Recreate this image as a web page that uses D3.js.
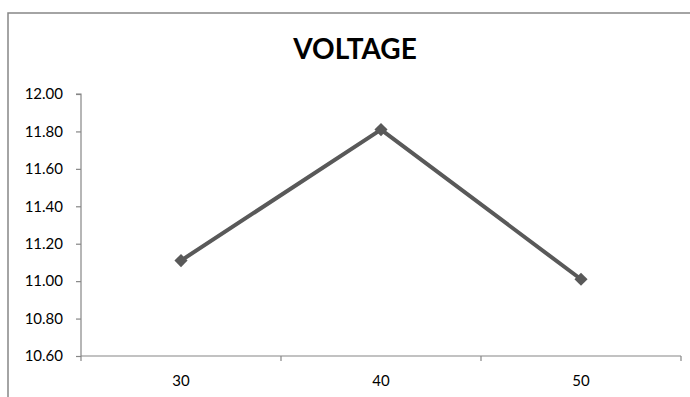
<!DOCTYPE html>
<html>
<head>
<meta charset="utf-8">
<script src="https://cdn.jsdelivr.net/npm/d3@7"></script>
<style>
  html, body { margin: 0; padding: 0; background: #fff; }
  svg { display: block; }
  .tick text { font-family: Lato, "Open Sans", sans-serif; font-size: 15px; fill: #000; }
</style>
</head>
<body>
<script>
// Voltage readings per category
const categories = ["30", "40", "50"];
const voltage = [11.11, 11.81, 11.01];
const yTicks = [10.6, 10.8, 11.0, 11.2, 11.4, 11.6, 11.8, 12.0];
const title = "VOLTAGE";

const W = 690, H = 397;
const svg = d3.select("body").append("svg").attr("width", W).attr("height", H);

// chart frame
svg.append("rect")
  .attr("x", 8).attr("y", 13).attr("width", 700).attr("height", 400)
  .attr("fill", "#fff").attr("stroke", "#868686").attr("stroke-width", 1.5);

const plotL = 81, plotR = 681, plotT = 94, plotB = 356;

const x = d3.scaleBand().domain(categories).range([plotL, plotR]);
const y = d3.scaleLinear().domain([10.6, 12.0]).range([plotB, plotT]);

// title
svg.append("text")
  .attr("x", 355).attr("y", 59)
  .attr("text-anchor", "middle")
  .attr("font-family", "Lato, 'Open Sans', sans-serif")
  .attr("font-weight", "bold")
  .attr("font-size", 28)
  .text(title);

// y axis
const yAxis = svg.append("g")
  .attr("transform", `translate(${plotL},0)`)
  .call(d3.axisLeft(y).tickValues(yTicks).tickFormat(d3.format(".2f")).tickSize(5).tickPadding(13));
yAxis.selectAll("path, line").attr("stroke", "#868686").attr("stroke-width", 1.2);
yAxis.select(".domain").attr("d", `M-5,${plotT}H0V${plotB}`);

// x axis with boundary ticks between categories
const xAxis = svg.append("g").attr("transform", `translate(0,${plotB})`);
xAxis.append("line")
  .attr("x1", plotL).attr("x2", plotR).attr("y1", 0).attr("y2", 0)
  .attr("stroke", "#868686").attr("stroke-width", 1.2);
const bounds = categories.map(c => x(c)).concat([x(categories[categories.length - 1]) + x.bandwidth()]);
xAxis.selectAll("line.b").data(bounds).enter().append("line")
  .attr("class", "b")
  .attr("x1", d => d).attr("x2", d => d).attr("y1", 0).attr("y2", 5)
  .attr("stroke", "#868686").attr("stroke-width", 1.2);
xAxis.selectAll("text").data(categories).enter().append("text")
  .attr("x", d => x(d) + x.bandwidth() / 2)
  .attr("y", 30)
  .attr("text-anchor", "middle")
  .attr("font-family", "Lato, 'Open Sans', sans-serif")
  .attr("font-size", 15)
  .text(d => d);

// series line
const pts = categories.map((c, i) => [x(c) + x.bandwidth() / 2, y(voltage[i])]);
svg.append("path")
  .attr("d", d3.line()(pts))
  .attr("fill", "none")
  .attr("stroke", "#595959")
  .attr("stroke-width", 4)
  .attr("stroke-linejoin", "round");

// diamond markers
svg.selectAll("path.m").data(pts).enter().append("path")
  .attr("class", "m")
  .attr("d", d3.symbol(d3.symbolDiamond2, 110)())
  .attr("transform", d => `translate(${d[0]},${d[1]})`)
  .attr("fill", "#595959");
</script>
</body>
</html>
